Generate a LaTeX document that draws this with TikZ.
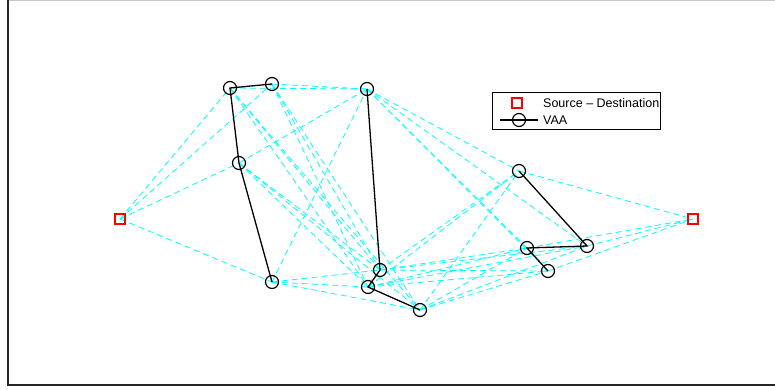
\documentclass[tikz,border=0pt]{standalone}
\usepackage{fontspec}
\setmainfont{Liberation Sans}
\usetikzlibrary{positioning,backgrounds}
\definecolor{LinkCyan}{RGB}{0,255,255}
\definecolor{MarkRed}{RGB}{255,0,0}
\definecolor{AxisGray}{RGB}{200,200,200}

\tikzset{
  vaa/.style={circle,draw=black,line width=1.2pt,minimum size=13pt,inner sep=0pt},
  endpt/.style={rectangle,draw=MarkRed,line width=2.2pt,minimum size=10pt,inner sep=0pt},
  link/.style={draw=LinkCyan,dash pattern=on 6pt off 4pt,line width=0.8pt},
  chain/.style={draw=black,line width=1.3pt},
  keytext/.style={anchor=west,inner sep=0pt,font=\fontsize{12.5}{14}\selectfont}
}

\begin{document}
\begin{tikzpicture}[x=1pt,y=-1pt]
  \useasboundingbox (0,0) rectangle (775,390);
  % axes frame
  \draw[AxisGray,line width=1pt] (8,0.5) -- (775,0.5);
  \draw[black!85,line width=1.2pt] (8,0) -- (8,385) -- (775,385);

  % source and destination
  \node[endpt] (src) at (120,219) {};
  \node[endpt] (dst) at (693,219) {};

  % first VAA
  \node[vaa] (a1) at (230,88) {};
  \node[vaa] (a2) at (272,84) {};
  \node[vaa] (a3) at (239,163) {};
  \node[vaa] (a4) at (272,282) {};
  % second VAA
  \node[vaa] (b1) at (367,89) {};
  \node[vaa] (b2) at (380,270) {};
  \node[vaa] (b3) at (368,287) {};
  \node[vaa] (b4) at (420,310) {};
  % third VAA
  \node[vaa] (c1) at (519,171) {};
  \node[vaa] (c2) at (587,246) {};
  \node[vaa] (c3) at (527,248) {};
  \node[vaa] (c4) at (548,271) {};

  % links between neighbouring hops
  \begin{scope}[on background layer]
    \foreach \i in {1,...,4} {
      \draw[link] (src.center) -- (a\i.center);
      \draw[link] (c\i.center) -- (dst.center);
      \foreach \j in {1,...,4} {
        \draw[link] (a\i.center) -- (b\j.center);
        \draw[link] (b\i.center) -- (c\j.center);
      }
    }
  \end{scope}

  % members of each VAA
  \draw[chain] (a2.center) -- (a1.center) -- (a3.center) -- (a4.center);
  \draw[chain] (b1.center) -- (b2.center) -- (b3.center) -- (b4.center);
  \draw[chain] (c1.center) -- (c2.center) -- (c3.center) -- (c4.center);

  % legend
  \node[draw=black,line width=1pt,fill=white,minimum width=168pt,minimum height=37pt,inner sep=0pt] (legend) at (576,111.5) {};
  \node[endpt] (keysd) at (517,103) {};
  \coordinate (keyl) at (500,120);
  \coordinate (keyr) at (538,120);
  \draw[chain] (keyl) -- (keyr);
  \node[vaa] (keyvaa) at (519,120) {};
  \node[keytext] (txtsd) at (543,103) {Source \textendash{} Destination};
  \node[keytext] (txtvaa) at (543,120.5) {VAA};
\end{tikzpicture}
\end{document}
